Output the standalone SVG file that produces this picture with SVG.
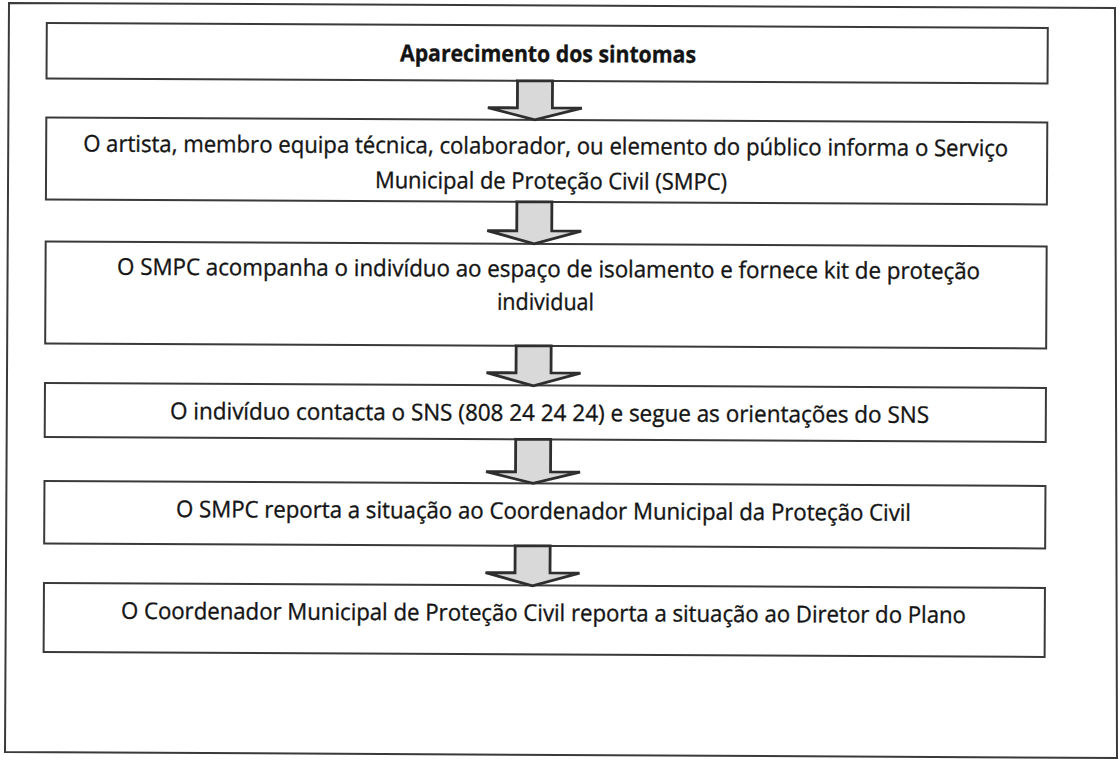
<svg xmlns="http://www.w3.org/2000/svg" width="1120" height="763" viewBox="0 0 1120 763">
<style>
.box{fill:#ffffff;stroke:#3a3a3a;stroke-width:2}
.frame{fill:none;stroke:#3a3a3a;stroke-width:2}
.arrow{fill:#d9d9d9;stroke:#2e2e2e;stroke-width:2.8;stroke-linejoin:miter}
.t{font-family:"Open Sans","Noto Sans","Liberation Sans",sans-serif;font-size:23px;fill:#141414;stroke:#141414;stroke-width:0.35}
.b{font-weight:bold}
</style>
<rect x="0" y="0" width="1120" height="763" fill="#ffffff"/>
<path id="frame" class="frame" d="M9,3 L1115,8 L1117,758 L5,752 Z"/>
<g transform="rotate(0.29 560 380)">
<g id="n1"><rect class="box" x="45" y="25.5" width="1001" height="55.5"/>
<text class="t b" x="398.4" y="62" textLength="296" lengthAdjust="spacingAndGlyphs">Aparecimento dos sintomas</text></g>
<g id="n2"><rect class="box" x="45" y="120" width="1001" height="82"/>
<text class="t" x="82" y="154" textLength="925" lengthAdjust="spacingAndGlyphs">O artista, membro equipa técnica, colaborador, ou elemento do público informa o Serviço</text>
<text class="t" x="374" y="189" textLength="352" lengthAdjust="spacingAndGlyphs">Municipal de Proteção Civil (SMPC)</text></g>
<g id="n3"><rect class="box" x="45" y="244" width="1001" height="102"/>
<text class="t" x="116.5" y="277" textLength="863" lengthAdjust="spacingAndGlyphs">O SMPC acompanha o indivíduo ao espaço de isolamento e fornece kit de proteção</text>
<text class="t" x="496.6" y="310" textLength="97" lengthAdjust="spacingAndGlyphs">individual</text></g>
<g id="n4"><rect class="box" x="45" y="385.5" width="1001" height="54"/>
<text class="t" x="170.2" y="421" textLength="759" lengthAdjust="spacingAndGlyphs">O indivíduo contacta o SNS (808 24 24 24) e segue as orientações do SNS</text></g>
<g id="n5"><rect class="box" x="45" y="483.5" width="1001" height="62.5"/>
<text class="t" x="176.7" y="519" textLength="735" lengthAdjust="spacingAndGlyphs">O SMPC reporta a situação ao Coordenador Municipal da Proteção Civil</text></g>
<g id="n6"><rect class="box" x="45" y="585.5" width="1001" height="69"/>
<text class="t" x="122.2" y="621" textLength="845" lengthAdjust="spacingAndGlyphs">O Coordenador Municipal de Proteção Civil reporta a situação ao Diretor do Plano</text></g>
<g id="connectors">
<path class="arrow" d="M516,81 L551,81 L551,108 L580.5,108 L533.5,120 L486.5,108 L516,108 Z"/>
<path class="arrow" d="M516,202 L551,202 L551,231 L580.5,231 L533.5,244 L486.5,231 L516,231 Z"/>
<path class="arrow" d="M516,346 L551,346 L551,373 L580.5,373 L533.5,386 L486.5,373 L516,373 Z"/>
<path class="arrow" d="M516,439.5 L551,439.5 L551,472 L580.5,472 L533.5,483.5 L486.5,472 L516,472 Z"/>
<path class="arrow" d="M516,546 L551,546 L551,573 L580.5,573 L533.5,586 L486.5,573 L516,573 Z"/>
</g>
</g>
</svg>
